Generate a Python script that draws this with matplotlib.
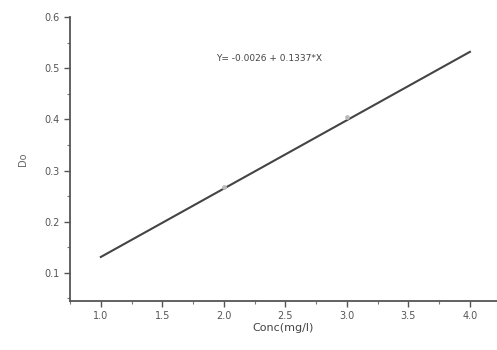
import numpy as np
import matplotlib.pyplot as plt
from matplotlib.ticker import MultipleLocator

# calibration data
conc = [1.0, 2.0, 3.0, 4.0]
od = [0.131, 0.268, 0.404, 0.532]
intercept, slope = -0.0026, 0.1337
eq_label = "Y= -0.0026 + 0.1337*X"

fig = plt.figure(figsize=(4.97, 3.5), dpi=100)
ax = fig.add_axes([0.141, 0.14, 0.859, 0.811])

xs = np.array([conc[0], conc[-1]])
ax.plot(xs, intercept + slope * xs, color='#444444', lw=1.5)
ax.scatter(conc[1:3], od[1:3], s=6, color='#bbbbbb', zorder=3)

ax.text(2.37, 0.52, eq_label, fontsize=6.5, color='#444444', ha='center', va='center')

ax.set_xlim(0.75, 4.22)
ax.set_ylim(0.045, 0.6)
ax.xaxis.set_minor_locator(MultipleLocator(0.25))
ax.yaxis.set_minor_locator(MultipleLocator(0.05))
ax.set_xticks([1.0, 1.5, 2.0, 2.5, 3.0, 3.5, 4.0])
ax.set_yticks([0.1, 0.2, 0.3, 0.4, 0.5, 0.6])

for s in ['top', 'right']:
    ax.spines[s].set_visible(False)
for s in ['left', 'bottom']:
    ax.spines[s].set_color('#555555')
    ax.spines[s].set_linewidth(1.3)
ax.tick_params(which='major', length=4, width=1, colors='#555555', labelsize=7, labelcolor='#555555')
ax.tick_params(which='minor', length=2, width=0.8, colors='#777777')

ax.set_xlabel("Conc(mg/l)", fontsize=8, color='#444444', labelpad=1)
ax.set_ylabel("Do", fontsize=7, color='#666666', labelpad=12)

fig.savefig("out.png", dpi=100)
